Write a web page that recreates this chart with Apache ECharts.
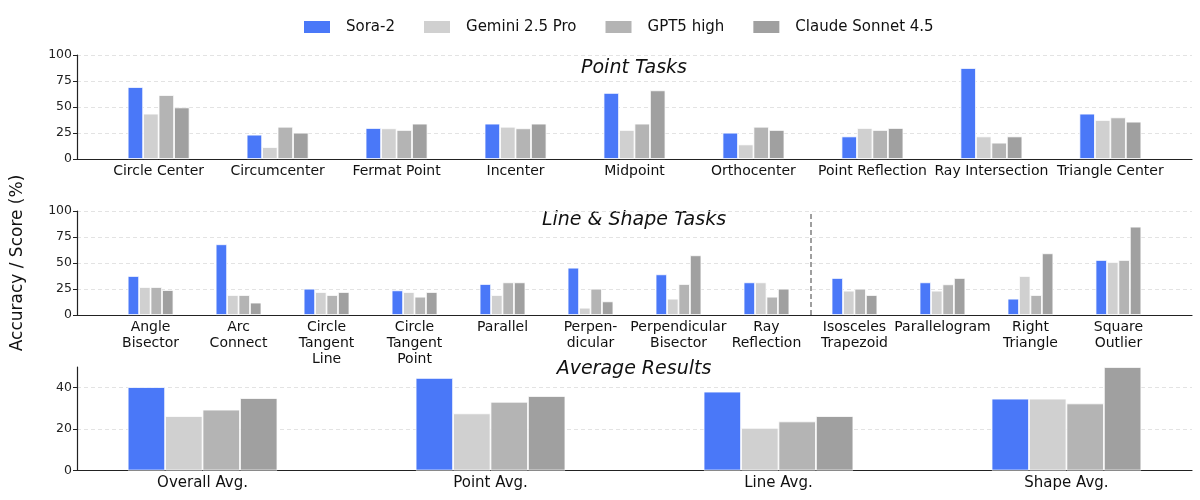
<!DOCTYPE html>
<html>
<head>
<meta charset="utf-8">
<script src="https://cdn.jsdelivr.net/npm/echarts@6/dist/echarts.min.js"></script>
<style>html,body{margin:0;padding:0;background:#fff}#c{width:1200px;height:500px}</style>
</head>
<body>
<div id="c"></div>
<script>
const modelNames = ['Sora-2', 'Gemini 2.5 Pro', 'GPT5 high', 'Claude Sonnet 4.5'];
const modelColors = ['#4a78f8', '#d0d0d0', '#b4b4b4', '#a0a0a0'];

const pointCats = ['Circle Center', 'Circumcenter', 'Fermat Point', 'Incenter', 'Midpoint', 'Orthocenter', 'Point Reflection', 'Ray Intersection', 'Triangle Center'];
const pointSora   = [69.2, 23.4, 29.8, 34.0, 63.5, 25.3, 21.7, 87.5, 43.6];
const pointGemini = [43.6, 11.5, 29.5, 31.0, 27.9, 14.0, 29.8, 21.7, 37.5];
const pointGPT    = [61.5, 31.0, 27.9, 29.5, 34.0, 31.0, 27.9, 15.7, 40.0];
const pointClaude = [49.6, 25.3, 34.0, 34.0, 66.0, 27.9, 29.8, 21.7, 35.9];

const lineCats = ['Angle\nBisector', 'Arc\nConnect', 'Circle\nTangent\nLine', 'Circle\nTangent\nPoint', 'Parallel', 'Perpen-\ndicular', 'Perpendicular\nBisector', 'Ray\nReflection', 'Isosceles\nTrapezoid', 'Parallelogram', 'Right\nTriangle', 'Square\nOutlier'];
const lineSora   = [37.5, 68.0, 25.3, 23.7, 29.8, 45.5, 39.1, 31.4, 35.6, 31.4, 15.7, 52.9];
const lineGemini = [26.9, 19.2, 22.1, 22.1, 19.2, 7.0, 15.7, 31.4, 23.4, 23.4, 37.5, 51.0];
const lineGPT    = [26.9, 19.2, 19.2, 17.6, 31.4, 25.3, 29.8, 17.6, 25.3, 29.5, 19.2, 52.9];
const lineClaude = [24.0, 11.9, 22.1, 22.1, 31.4, 13.1, 57.4, 25.3, 19.2, 35.6, 59.3, 84.9];
const lineSplitAt = 7.5;

const avgCats = ['Overall Avg.', 'Point Avg.', 'Line Avg.', 'Shape Avg.'];
const avgSora   = [40.3, 44.7, 38.1, 34.7];
const avgGemini = [26.3, 27.6, 20.6, 34.7];
const avgGPT    = [29.4, 33.2, 23.7, 32.4];
const avgClaude = [35.0, 36.0, 26.3, 50.0];

const panelTitles = ['Point Tasks', 'Line & Shape Tasks', 'Average Results'];
const yTicksTaskMax = 100, yTicksTaskStep = 25;
const yAvgMax = 50, yAvgStep = 20;

const FONT = 'DejaVu Sans';
const plotLeft = 77, plotRight = 1192;
const plotW = plotRight - plotLeft;
const relW = 0.13;

const panels = [
  {cats: pointCats, vals: [pointSora, pointGemini, pointGPT, pointClaude], top: 55, h: 104, ymax: yTicksTaskMax, step: yTicksTaskStep, fs: 14, margin: 4},
  {cats: lineCats, vals: [lineSora, lineGemini, lineGPT, lineClaude], top: 211, h: 104, ymax: yTicksTaskMax, step: yTicksTaskStep, fs: 14, margin: 4},
  {cats: avgCats, vals: [avgSora, avgGemini, avgGPT, avgClaude], top: 367, h: 103.5, ymax: yAvgMax, step: yAvgStep, fs: 15, margin: 5}
];

const grids = [], xAxes = [], yAxes = [], series = [];
panels.forEach((p, pi) => {
  const n = p.cats.length;
  const span = (n - 1 + 4 * relW);
  const pad = span * 0.05;
  const xmin = -2 * relW - pad, xmax = n - 1 + 2 * relW + pad;
  const unit = plotW / (xmax - xmin);
  const bw = unit * relW;
  const gA = 2 * pi, gB = 2 * pi + 1;
  // grid A: visible axes spanning the full plot width
  grids.push({left: plotLeft, width: plotW, top: p.top, height: p.h, outerBoundsMode: 'none', containLabel: false});
  // grid B: from first to last category centre (category centres at integer positions of grid A)
  grids.push({left: plotLeft + (0 - xmin) * unit, width: (n - 1) * unit, top: p.top, height: p.h, outerBoundsMode: 'none', containLabel: false});

  xAxes.push({
    type: 'value', gridIndex: gA, min: xmin, max: xmax,
    axisLine: {show: true, onZero: false, lineStyle: {color: '#222', width: 1.2}},
    axisTick: {show: false}, splitLine: {show: false},
    axisLabel: {
      customValues: p.cats.map((c, i) => i),
      formatter: v => p.cats[Math.round(v)],
      fontFamily: FONT, fontSize: p.fs, color: '#111', margin: p.margin, lineHeight: 16
    }
  });
  xAxes.push({type: 'category', gridIndex: gB, data: p.cats, show: false, boundaryGap: false});

  const ticks = [];
  for (let v = 0; v <= p.ymax; v += p.step) ticks.push(v);
  const splitColors = ticks.map(() => '#dcdcdc');
  if (ticks[ticks.length - 1] !== p.ymax) splitColors.push('rgba(0,0,0,0)');
  yAxes.push({
    type: 'value', gridIndex: gA, min: 0, max: p.ymax, interval: p.step,
    axisLine: {show: true, onZero: false, lineStyle: {color: '#222', width: 1.2}},
    axisTick: {show: true, length: 4, lineStyle: {color: '#222'}},
    axisLabel: {fontFamily: FONT, fontSize: 12.5, color: '#222', margin: 5, showMaxLabel: ticks[ticks.length - 1] === p.ymax},
    splitLine: {show: true, lineStyle: {color: splitColors, type: [4, 3], width: 0.8}},
    name: pi === 1 ? 'Accuracy / Score (%)' : '',
    nameLocation: 'middle', nameRotate: 90, nameGap: 51,
    nameTextStyle: {fontFamily: FONT, fontSize: 17, color: '#111'}
  });
  yAxes.push({type: 'value', gridIndex: gB, min: 0, max: p.ymax, show: false, splitLine: {show: false}});

  p.vals.forEach((arr, k) => {
    series.push({
      type: 'bar', name: modelNames[k], xAxisIndex: gB, yAxisIndex: gB,
      data: arr, clip: false,
      barWidth: bw, barGap: '0%',
      itemStyle: {color: modelColors[k], borderColor: '#fff', borderWidth: 0.8},
      emphasis: {disabled: true}, silent: true
    });
  });
  if (pi === 1) {
    series.push({
      type: 'line', xAxisIndex: gA, yAxisIndex: gA, data: [], silent: true,
      markLine: {
        silent: true, symbol: ['none', 'none'], label: {show: false},
        lineStyle: {color: '#808080', type: [5, 3], width: 1.5},
        data: [{xAxis: lineSplitAt}]
      }
    });
  }
});

const titleY = [68, 220, 369];
const graphic = panelTitles.map((t, i) => ({
  type: 'text', x: 634, y: titleY[i],
  style: {text: t, font: 'italic 19px "DejaVu Sans"', fill: '#111', textAlign: 'center', textVerticalAlign: 'middle'}
}));

const chart = echarts.init(document.getElementById('c'), null, {renderer: 'canvas'});
chart.setOption({
  animation: false,
  backgroundColor: '#fff',
  legend: {
    data: modelNames, left: 297, top: 14, itemWidth: 28, itemHeight: 14, itemGap: 27,
    icon: 'rect',
    textStyle: {fontFamily: FONT, fontSize: 15, color: '#111', padding: [0, 0, 0, 10]}
  },
  grid: grids, xAxis: xAxes, yAxis: yAxes, series: series, graphic: graphic
});
</script>
</body>
</html>
